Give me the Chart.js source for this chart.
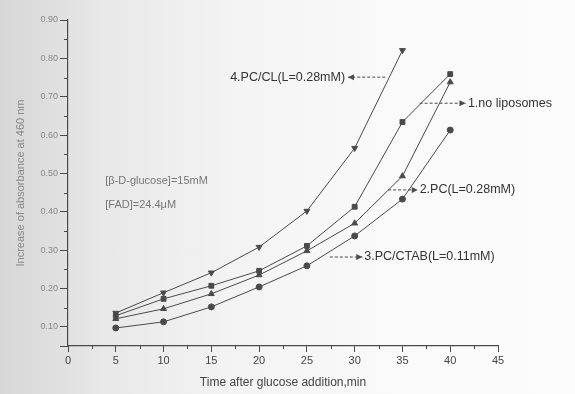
<!DOCTYPE html>
<html lang="en">
<head>
  <meta charset="UTF-8" />
  <title>Time after glucose addition</title>
  <script src="https://cdn.jsdelivr.net/npm/chart.js"></script>
  <style>
    html, body { margin: 0; padding: 0; }
    body {
      width: 575px; height: 394px; overflow: hidden;
      background: linear-gradient(to right, #d6d6d6 0%, #e8e8e8 18%, #f3f3f3 40%, #f9f9f9 65%, #fcfcfc 100%);
      font-family: "Liberation Sans", Arial, sans-serif;
    }
    #wrap { position: relative; width: 575px; height: 394px; }
  </style>
</head>
<body>
<div id="wrap"><canvas id="chart"></canvas></div>

<script>
  // time after glucose addition, min
  const times = [5, 10, 15, 20, 25, 30, 35, 40];

  // series (y axis labels are illegible, values are estimates)
  const noLiposomes = [0.129, 0.173, 0.207, 0.246, 0.311, 0.413, 0.634, 0.759];
  const pc = [0.121, 0.147, 0.186, 0.235, 0.298, 0.370, 0.493, 0.738];
  const pcCtab = [0.097, 0.113, 0.152, 0.204, 0.259, 0.337, 0.433, 0.613];
  const pcCl = [0.136, 0.189, 0.241, 0.308, 0.402, 0.566, 0.821];

  const xTicks = [0, 5, 10, 15, 20, 25, 30, 35, 40, 45];
  const yTicks = [0.1, 0.2, 0.3, 0.4, 0.5, 0.6, 0.7, 0.8, 0.9];

  const ink = '#4a4a4a';

  function series(label, values, style, rotation) {
    return {
      label: label,
      data: values.map((v, i) => ({ x: times[i], y: v })),
      borderColor: ink,
      backgroundColor: ink,
      borderWidth: 1,
      pointStyle: style,
      rotation: rotation || 0,
      pointRadius: style === 'circle' ? 3 : 3.4,
      tension: 0
    };
  }

  // minor ticks + labels with dashed arrows
  const decor = {
    id: 'decor',
    afterDraw(chart) {
      const { ctx } = chart;
      const xs = chart.scales.x, ys = chart.scales.y;
      ctx.save();
      ctx.strokeStyle = ink;
      ctx.lineWidth = 1;
      // x axis line runs a little left of the y axis
      ctx.beginPath();
      ctx.moveTo(xs.left - 8, ys.bottom + 0.5);
      ctx.lineTo(xs.left, ys.bottom + 0.5);
      ctx.stroke();
      // minor ticks
      for (let v = 2.5; v < 45; v += 5) {
        const px = Math.round(xs.getPixelForValue(v)) + 0.5;
        ctx.beginPath();
        ctx.moveTo(px, ys.bottom);
        ctx.lineTo(px, ys.bottom + 3);
        ctx.stroke();
      }
      for (let v = 0.15; v < 0.9; v += 0.1) {
        const py = Math.round(ys.getPixelForValue(v)) + 0.5;
        ctx.beginPath();
        ctx.moveTo(xs.left, py);
        ctx.lineTo(xs.left - 4, py);
        ctx.stroke();
      }

      const P = (x, y) => [xs.getPixelForValue(x), ys.getPixelForValue(y)];
      function arrow(x1, y1, x2, y2) {
        const [a, b] = P(x1, y1), [c, d] = P(x2, y2);
        ctx.setLineDash([3, 2]);
        ctx.beginPath();
        ctx.moveTo(a, b);
        ctx.lineTo(c, d);
        ctx.stroke();
        ctx.setLineDash([]);
        const dir = Math.sign(c - a);
        ctx.beginPath();
        ctx.moveTo(c, d);
        ctx.lineTo(c - dir * 6, d - 3);
        ctx.lineTo(c - dir * 6, d + 3);
        ctx.closePath();
        ctx.fillStyle = ink;
        ctx.fill();
      }
      function text(str, x, y, align) {
        const [a, b] = P(x, y);
        ctx.textAlign = align;
        ctx.textBaseline = 'middle';
        ctx.fillText(str, a, b);
      }

      ctx.font = '12.5px "Liberation Sans", Arial, sans-serif';
      arrow(33.2, 0.751, 29.3, 0.751);
      ctx.fillStyle = '#333';
      text('4.PC/CL(L=0.28mM)', 29.0, 0.751, 'right');
      arrow(36.8, 0.683, 41.6, 0.683);
      ctx.fillStyle = '#333';
      text('1.no liposomes', 41.85, 0.683, 'left');
      arrow(33.5, 0.457, 36.6, 0.457);
      ctx.fillStyle = '#333';
      text('2.PC(L=0.28mM)', 36.8, 0.457, 'left');
      arrow(27.4, 0.282, 30.8, 0.282);
      ctx.fillStyle = '#333';
      text('3.PC/CTAB(L=0.11mM)', 31.0, 0.282, 'left');

      ctx.fillStyle = '#777';
      ctx.font = '11px "Liberation Sans", Arial, sans-serif';
      text('[β-D-glucose]=15mM', 3.9, 0.48, 'left');
      text('[FAD]=24.4μM', 3.9, 0.418, 'left');
      ctx.restore();
    }
  };

  new Chart(document.getElementById('chart'), {
    type: 'line',
    data: {
      datasets: [
        series('1.no liposomes', noLiposomes, 'rect'),
        series('2.PC(L=0.28mM)', pc, 'triangle'),
        series('3.PC/CTAB(L=0.11mM)', pcCtab, 'circle'),
        series('4.PC/CL(L=0.28mM)', pcCl, 'triangle', 180)
      ]
    },
    options: {
      responsive: true,
      maintainAspectRatio: false,
      animation: false,
      layout: { padding: { top: 20, right: 77, left: 10, bottom: 0 } },
      plugins: { legend: { display: false }, tooltip: { enabled: false } },
      scales: {
        x: {
          type: 'linear',
          min: 0, max: 45,
          afterBuildTicks: s => { s.ticks = xTicks.map(v => ({ value: v })); },
          afterFit: s => { s.height = 48; },
          grid: { drawOnChartArea: false, color: ink, tickLength: 6 },
          border: { color: ink, width: 1.2 },
          ticks: { color: '#444', font: { size: 11 }, padding: 2, maxRotation: 0 },
          title: {
            display: true, text: 'Time after glucose addition,min',
            color: '#444', font: { size: 12 }, padding: { top: 2 }
          }
        },
        y: {
          type: 'linear',
          min: 0.05, max: 0.9,
          afterBuildTicks: s => { s.ticks = yTicks.map(v => ({ value: v })); },
          afterFit: s => { s.width = 58; },
          grid: { drawOnChartArea: false, color: ink, tickLength: 8 },
          border: { color: ink, width: 1.2 },
          ticks: { color: '#888', font: { size: 9 }, padding: 2, callback: v => v.toFixed(2) },
          title: {
            display: true, text: 'Increase of absorbance at 460 nm',
            color: '#888', font: { size: 11 }, padding: { bottom: 4 }
          }
        }
      }
    },
    plugins: [decor]
  });
</script>
</body>
</html>
